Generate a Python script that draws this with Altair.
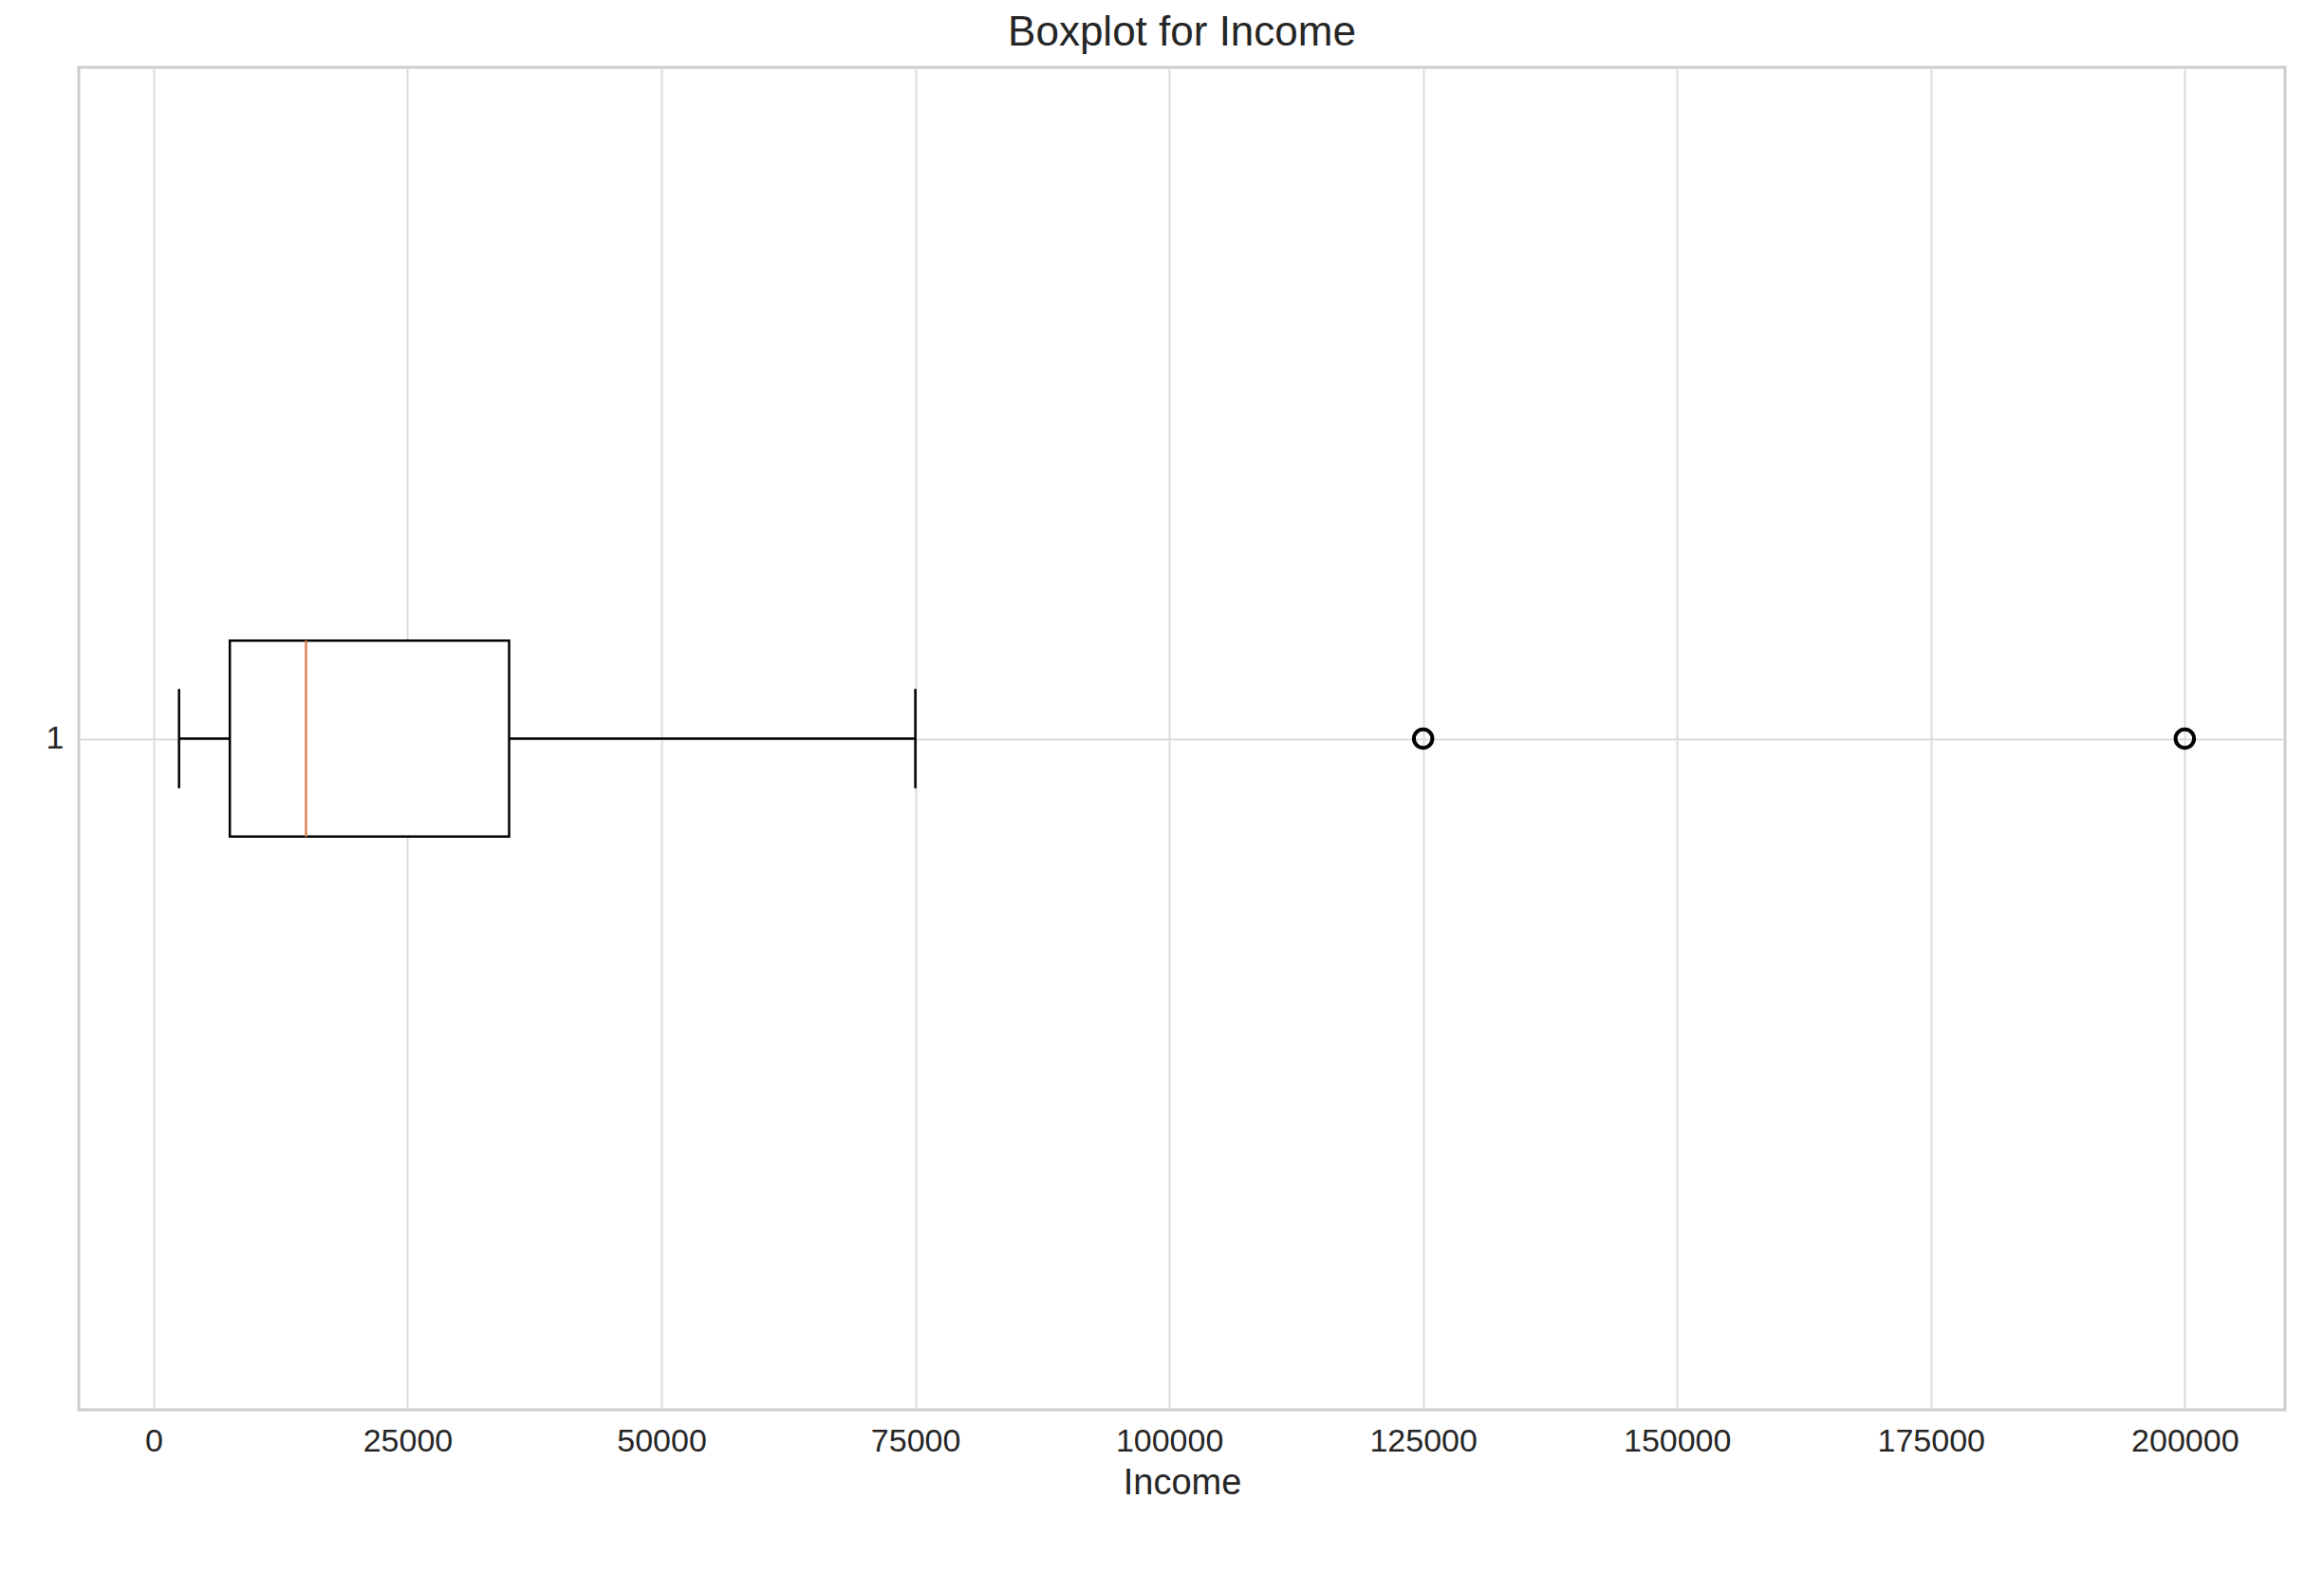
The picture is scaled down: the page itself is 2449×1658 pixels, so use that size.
import altair as alt
import pandas as pd

labels = ["Income"]
whisker_low = [2500]
q1 = [7500]
median = [15000]
q3 = [35000]
whisker_high = [75000]
outliers = [125000, 200000]

stats = pd.DataFrame({"lab": labels, "lo": whisker_low, "q1": q1, "med": median,
                      "q3": q3, "hi": whisker_high, "y": [1.0],
                      "yb0": [0.927], "yb1": [1.073], "yc0": [0.963], "yc1": [1.037]})
out = pd.DataFrame({"v": outliers, "y": [1.0] * len(outliers)})

xs = alt.Scale(domain=[-7375, 209875], nice=False, zero=False)
ys = alt.Scale(domain=[0.5, 1.5], nice=False, zero=False)
xax = alt.Axis(values=list(range(0, 200001, 25000)), format="d", title="Income")
yax = alt.Axis(values=[1], format="d", title=None)

base = alt.Chart(stats)
whisk1 = base.mark_rule(color="black", strokeWidth=2.5).encode(
    x=alt.X("lo:Q", scale=xs, axis=xax), x2="q1:Q", y=alt.Y("y:Q", scale=ys, axis=yax))
whisk2 = base.mark_rule(color="black", strokeWidth=2.5).encode(x="q3:Q", x2="hi:Q", y="y:Q")
cap1 = base.mark_rule(color="black", strokeWidth=2.5).encode(x="lo:Q", y="yc0:Q", y2="yc1:Q")
cap2 = base.mark_rule(color="black", strokeWidth=2.5).encode(x="hi:Q", y="yc0:Q", y2="yc1:Q")
box = base.mark_rect(fill="white", stroke="black", strokeWidth=2.5).encode(
    x="q1:Q", x2="q3:Q", y="yb0:Q", y2="yb1:Q")
med = base.mark_rule(color="#dd8452", strokeWidth=2.5).encode(x="med:Q", y="yb0:Q", y2="yb1:Q")
pts = alt.Chart(out).mark_point(shape="circle", filled=False, color="black",
                                 size=380, strokeWidth=4, opacity=1).encode(x="v:Q", y="y:Q")

chart = alt.layer(whisk1, whisk2, cap1, cap2, box, med, pts).properties(
    width=2325, height=1415,
    padding={"left": 40, "top": 5, "right": 5, "bottom": 5},
    title=alt.TitleParams("Boxplot for Income", fontSize=44, font="Arial",
                          fontWeight="normal", color="#262626", offset=14),
).configure_view(stroke="#cccccc", strokeWidth=3).configure_axis(
    grid=True, gridColor="#dcdcdc", gridWidth=2, domain=False, ticks=False,
    labelFontSize=34, titleFontSize=38, labelFont="Arial", titleFont="Arial",
    labelColor="#262626", titleColor="#262626", labelPadding=16, titleFontWeight="normal",
    titlePadding=8)

chart.save("out.html", embed_options={"renderer": "svg", "actions": False})
